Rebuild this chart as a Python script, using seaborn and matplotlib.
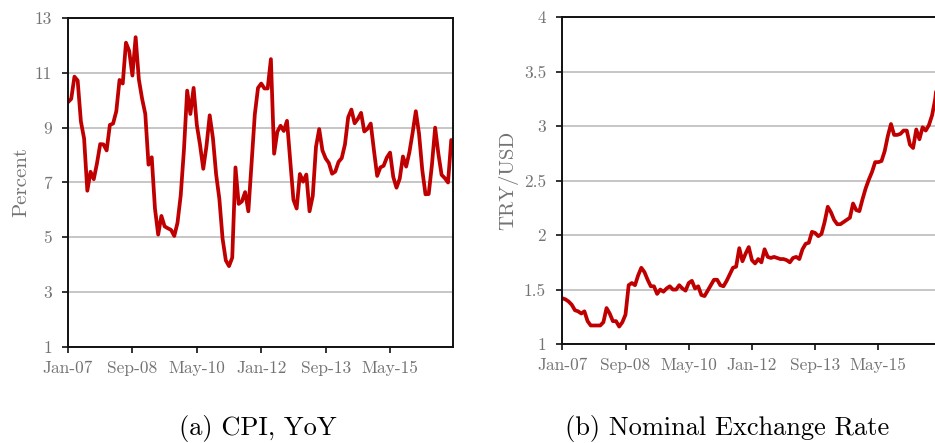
import numpy as np
import pandas as pd
import matplotlib
matplotlib.use("Agg")
import matplotlib.pyplot as plt
import seaborn as sns

# ---------------- data ----------------
start_month = "2007-01"
tick_labels = ["Jan-07", "Sep-08", "May-10", "Jan-12", "Sep-13", "May-15"]
tick_months = ["2007-01", "2008-09", "2010-05", "2012-01", "2013-09", "2015-05"]

cpi_yoy = [
    9.93, 10.05, 10.86, 10.72, 9.23, 8.60, 6.70, 7.39, 7.12, 7.70, 8.40, 8.39,
    8.17, 9.10, 9.15, 9.60, 10.74, 10.61, 12.10, 11.80, 10.90, 12.30, 10.76, 10.06,
    9.50, 7.65, 7.92, 6.05, 5.10, 5.78, 5.40, 5.33, 5.27, 5.05, 5.53, 6.53,
    8.19, 10.35, 9.50, 10.45, 9.10, 8.37, 7.50, 8.33, 9.45, 8.62, 7.29, 6.40,
    4.95, 4.16, 3.95, 4.26, 7.55, 6.22, 6.31, 6.65, 5.95, 7.70, 9.48, 10.45,
    10.61, 10.43, 10.43, 11.50, 8.05, 8.85, 9.07, 8.88, 9.25, 7.80, 6.37, 6.05,
    7.31, 7.03, 7.29, 5.95, 6.51, 8.30, 8.95, 8.17, 7.88, 7.71, 7.32, 7.40,
    7.75, 7.89, 8.39, 9.38, 9.66, 9.16, 9.32, 9.54, 8.86, 8.96, 9.15, 8.17,
    7.24, 7.55, 7.61, 7.91, 8.09, 7.20, 6.81, 7.14, 7.95, 7.58, 8.10, 8.81,
    9.60, 8.78, 7.46, 6.57, 6.58, 7.64, 9.00, 8.05, 7.28, 7.16, 7.00, 8.55,
]

try_usd = [
    1.42, 1.41, 1.39, 1.36, 1.31, 1.30, 1.28, 1.30, 1.21, 1.17, 1.17, 1.17,
    1.17, 1.20, 1.33, 1.28, 1.21, 1.21, 1.16, 1.20, 1.27, 1.54, 1.56, 1.54,
    1.63, 1.70, 1.66, 1.59, 1.53, 1.53, 1.46, 1.50, 1.48, 1.51, 1.53, 1.50,
    1.50, 1.54, 1.51, 1.49, 1.56, 1.58, 1.51, 1.53, 1.45, 1.44, 1.49, 1.54,
    1.59, 1.59, 1.54, 1.53, 1.58, 1.64, 1.70, 1.71, 1.88, 1.76, 1.83, 1.89,
    1.77, 1.74, 1.78, 1.75, 1.87, 1.80, 1.79, 1.80, 1.79, 1.78, 1.78, 1.77,
    1.75, 1.79, 1.80, 1.78, 1.87, 1.92, 1.93, 2.03, 2.02, 1.99, 2.01, 2.12,
    2.26, 2.21, 2.14, 2.10, 2.10, 2.12, 2.14, 2.16, 2.29, 2.23, 2.22, 2.33,
    2.43, 2.51, 2.58, 2.67, 2.67, 2.68, 2.77, 2.91, 3.02, 2.92, 2.92, 2.93,
    2.96, 2.96, 2.83, 2.80, 2.97, 2.88, 2.99, 2.96, 3.01, 3.10, 3.25, 3.52,
]

cpi_yticks = [1, 3, 5, 7, 9, 11, 13]
fx_yticks = [1, 1.5, 2, 2.5, 3, 3.5, 4]
fx_yticklabels = ["1", "1.5", "2", "2.5", "3", "3.5", "4"]
captions = ["(a) CPI, YoY", "(b) Nominal Exchange Rate"]
ylabels = ["Percent", "TRY/USD"]

# ---------------- style ----------------
sns.set_theme(style="white")
plt.rcParams["font.family"] = ["cmr10", "DejaVu Serif"]
plt.rcParams["axes.formatter.use_mathtext"] = True

LINE_COLOR = "#C00000"
GRID_COLOR = "#c2c2c2"
TICK_COLOR = "#737373"

months = pd.period_range(start_month, periods=len(cpi_yoy), freq="M")
base = pd.Period(start_month, freq="M")
x_idx = np.array([(m - base).n for m in months])
tick_pos = [(pd.Period(t, freq="M") - base).n for t in tick_months]

df_cpi = pd.DataFrame({"month": x_idx, "value": cpi_yoy})
df_fx = pd.DataFrame({"month": x_idx, "value": try_usd})

fig = plt.figure(figsize=(9.35, 4.43), dpi=100)
ax1 = fig.add_axes([68 / 935, 96 / 443, 385.5 / 935, 329 / 443])
ax2 = fig.add_axes([562.3 / 935, 99 / 443, 378.3 / 935, 326.7 / 443])


def style_axis(ax, yticks, yticklabels, ylim, ylabel, show_right, labelpad):
    ax.set_xlim(0, 119.7)
    ax.set_ylim(*ylim)
    ax.set_yticks(yticks)
    ax.set_yticklabels(yticklabels)
    ax.set_xticks(tick_pos)
    ax.set_xticklabels(tick_labels)
    ax.yaxis.grid(True, color=GRID_COLOR, linewidth=1.3)
    ax.xaxis.grid(False)
    ax.set_axisbelow(True)
    for side in ["left", "bottom", "top", "right"]:
        ax.spines[side].set_visible(True)
        ax.spines[side].set_color("#111111")
        ax.spines[side].set_linewidth(1.4)
    if not show_right:
        ax.spines["right"].set_visible(False)
    ax.tick_params(axis="both", which="major", direction="out", length=4.2,
                   width=1.2, color="#111111", labelcolor=TICK_COLOR,
                   labelsize=12.5, left=True, bottom=True,
                   right=False, top=False)
    ax.tick_params(axis="y", pad=7.5)
    ax.tick_params(axis="x", pad=6)
    ax.set_xlabel("")
    ax.set_ylabel(ylabel, fontsize=15, color=TICK_COLOR, labelpad=labelpad)


sns.lineplot(data=df_cpi, x="month", y="value", ax=ax1, color=LINE_COLOR,
             linewidth=2.7)
style_axis(ax1, cpi_yticks, [str(v) for v in cpi_yticks], (1, 13),
           ylabels[0], True, 3)

sns.lineplot(data=df_fx, x="month", y="value", ax=ax2, color=LINE_COLOR,
             linewidth=2.7)
style_axis(ax2, fx_yticks, fx_yticklabels, (1, 4), ylabels[1], False, 4)

fig.text(258 / 935, 1 - 428 / 443, captions[0], ha="center", va="center",
         fontsize=19, color="black")
fig.text(727 / 935, 1 - 428 / 443, captions[1], ha="center", va="center",
         fontsize=19, color="black")

fig.savefig("out.png", dpi=100)
